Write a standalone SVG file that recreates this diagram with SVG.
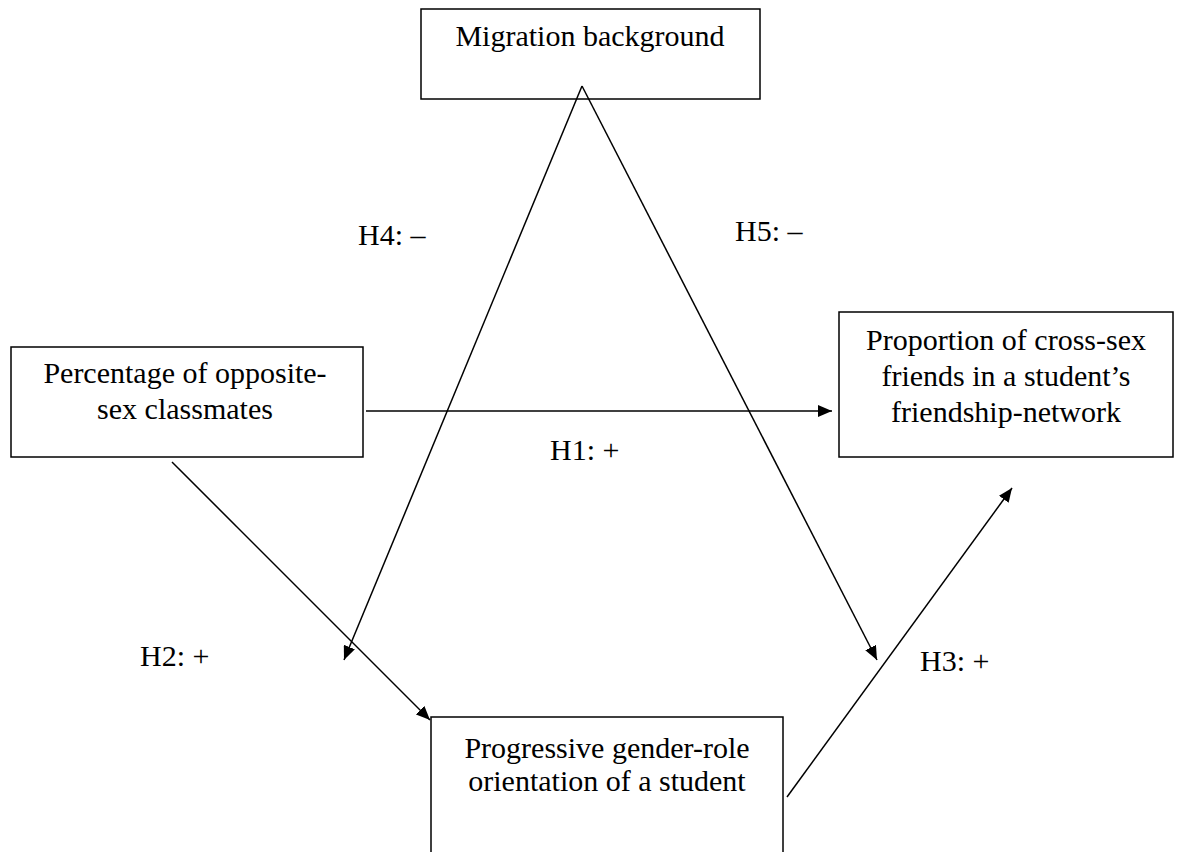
<svg xmlns="http://www.w3.org/2000/svg" width="1183" height="852" viewBox="0 0 1183 852">
<style>
.box{fill:#fff;stroke:#000;stroke-width:1.5}
text{font-family:'Liberation Serif','Tinos','DejaVu Serif',serif;font-size:30px;fill:#000}
.t{text-anchor:middle}
.c{stroke:#000;stroke-width:1.5;fill:none}
</style>
<defs>
<marker id="ah" viewBox="0 0 14 12" refX="14" refY="6" markerWidth="14" markerHeight="12" markerUnits="userSpaceOnUse" orient="auto"><path d="M0,0 L14,6 L0,12 Z" fill="#000"/></marker>
</defs>
<rect width="1183" height="852" fill="#fff"/>
<g id="migration"><rect class="box" x="421" y="9" width="339" height="90"/><text class="t" x="590" y="46">Migration background</text></g>
<g id="percentage"><rect class="box" x="11" y="347" width="352" height="110"/><text class="t" x="185" y="383">Percentage of opposite-</text><text class="t" x="185" y="419">sex classmates</text></g>
<g id="proportion"><rect class="box" x="839" y="312" width="334" height="145"/><text class="t" x="1006" y="350">Proportion of cross-sex</text><text class="t" x="1006" y="386">friends in a student’s</text><text class="t" x="1006" y="422">friendship-network</text></g>
<g id="progressive"><rect class="box" x="431" y="717" width="352" height="150"/><text class="t" x="607" y="758">Progressive gender-role</text><text class="t" x="607" y="791">orientation of a student</text></g>
<g id="connectors">
<line class="c" x1="582" y1="86" x2="344" y2="660" marker-end="url(#ah)"/>
<line class="c" x1="582" y1="86" x2="877" y2="660" marker-end="url(#ah)"/>
<line class="c" x1="366" y1="411" x2="832" y2="411" marker-end="url(#ah)"/>
<line class="c" x1="172" y1="462" x2="430" y2="720" marker-end="url(#ah)"/>
<line class="c" x1="787" y1="797" x2="1012" y2="488" marker-end="url(#ah)"/>
</g>
<g id="labels">
<text x="358" y="245">H4: –</text>
<text x="735" y="241">H5: –</text>
<text x="550" y="460">H1: +</text>
<text x="140" y="666">H2: +</text>
<text x="920" y="671">H3: +</text>
</g>
</svg>
